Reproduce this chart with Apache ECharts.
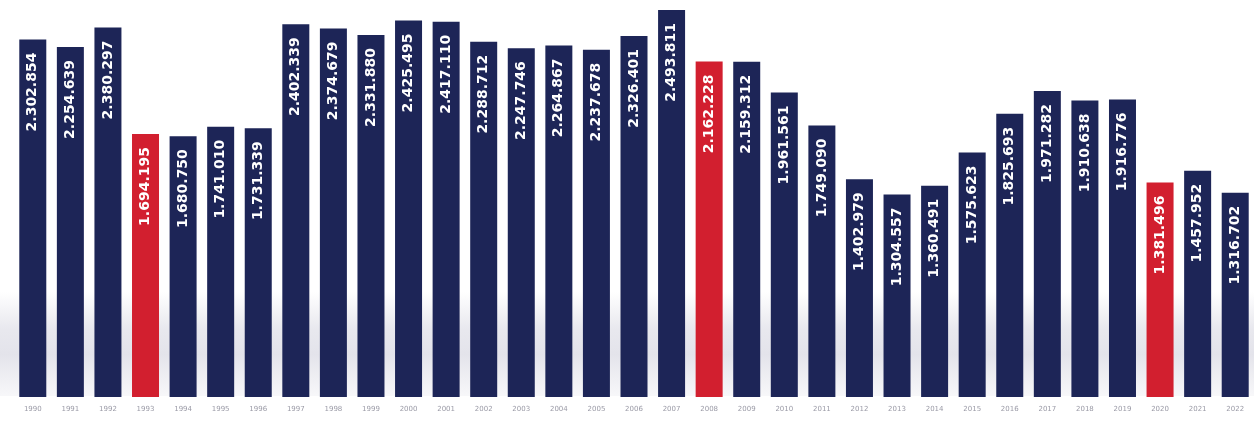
<!DOCTYPE html>
<html>
<head>
<meta charset="utf-8">
<script src="https://cdn.jsdelivr.net/npm/echarts@6/dist/echarts.min.js"></script>
<style>
  html, body { margin: 0; padding: 0; background: #ffffff; }
  #chart { width: 1254px; height: 421px; }
</style>
</head>
<body>
<div id="chart"></div>
<script>
// Annual totals, 1990–2022
const years = [
  '1990','1991','1992','1993','1994','1995','1996','1997','1998','1999',
  '2000','2001','2002','2003','2004','2005','2006','2007','2008','2009',
  '2010','2011','2012','2013','2014','2015','2016','2017','2018','2019',
  '2020','2021','2022'
];
const totals = [
  2302854, 2254639, 2380297, 1694195, 1680750, 1741010, 1731339, 2402339, 2374679, 2331880,
  2425495, 2417110, 2288712, 2247746, 2264867, 2237678, 2326401, 2493811, 2162228, 2159312,
  1961561, 1749090, 1402979, 1304557, 1360491, 1575623, 1825693, 1971282, 1910638, 1916776,
  1381496, 1457952, 1316702
];
// Crisis years drawn in red
const highlightYears = ['1993', '2008', '2020'];

const NAVY = '#1d2557';
const RED = '#d21f2f';

function fmt(v) {
  return String(v).replace(/\B(?=(\d{3})+(?!\d))/g, '.');
}

const chart = echarts.init(document.getElementById('chart'), null, { renderer: 'canvas' });

chart.setOption({
  animation: false,
  backgroundColor: '#ffffff',
  grid: { left: 14, top: 9, width: 1244, height: 388, containLabel: false },
  graphic: [{
    // soft grey floor reflection behind the bars
    type: 'rect',
    z: -10,
    silent: true,
    shape: { x: 0, y: 292, width: 1254, height: 104 },
    style: {
      fill: new echarts.graphic.LinearGradient(0, 0, 0, 1, [
        { offset: 0, color: 'rgba(205,205,218,0)' },
        { offset: 0.35, color: 'rgba(205,205,218,0.45)' },
        { offset: 0.6, color: 'rgba(205,205,218,0.55)' },
        { offset: 1, color: 'rgba(205,205,218,0.15)' }
      ])
    }
  }],
  xAxis: {
    type: 'category',
    data: years,
    axisLine: { show: false },
    axisTick: { show: false },
    axisLabel: {
      color: '#9a9aa6',
      fontSize: 7,
      fontFamily: 'DejaVu Sans',
      margin: 9,
      interval: 0
    }
  },
  yAxis: {
    type: 'value',
    min: 0,
    max: 2500000,
    show: false,
    splitLine: { show: false }
  },
  series: [{
    type: 'bar',
    barWidth: 27,
    data: totals.map((v, i) => ({
      value: v,
      itemStyle: { color: highlightYears.includes(years[i]) ? RED : NAVY }
    })),
    label: {
      show: true,
      position: 'insideTop',
      rotate: 90,
      align: 'right',
      verticalAlign: 'middle',
      distance: 13,
      color: '#ffffff',
      fontFamily: 'DejaVu Sans',
      fontWeight: 'bold',
      fontSize: 14,
      formatter: p => fmt(p.value)
    }
  }]
});
</script>
</body>
</html>
